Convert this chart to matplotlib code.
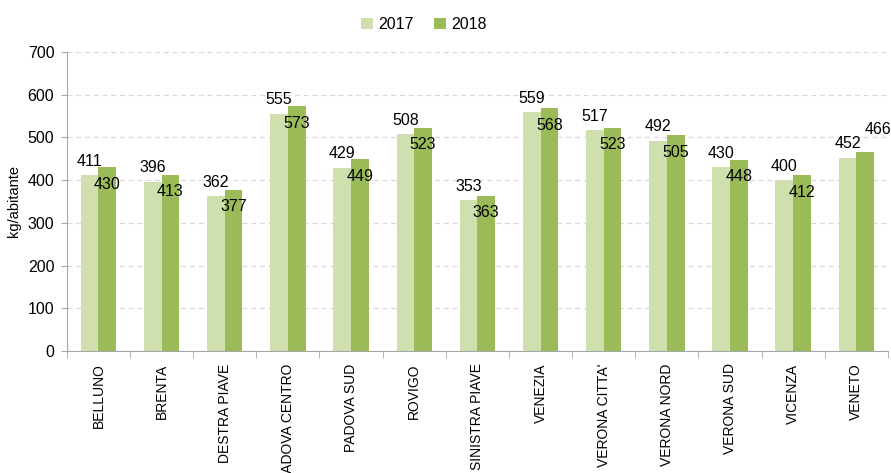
import matplotlib.pyplot as plt
import numpy as np

# data
categories = ['BELLUNO', 'BRENTA', 'DESTRA PIAVE', 'PADOVA CENTRO', 'PADOVA SUD',
              'ROVIGO', 'SINISTRA PIAVE', 'VENEZIA', "VERONA CITTA'", 'VERONA NORD',
              'VERONA SUD', 'VICENZA', 'VENETO']
values_2017 = [411, 396, 362, 555, 429, 508, 353, 559, 517, 492, 430, 400, 452]
values_2018 = [430, 413, 377, 573, 449, 523, 363, 568, 523, 505, 448, 412, 466]
series_names = ['2017', '2018']

color_2017 = '#D0DFAE'
color_2018 = '#9BBB59'
axis_gray = '#A6A6A6'

plt.rcParams['font.family'] = ['Liberation Sans', 'DejaVu Sans']

fig = plt.figure(figsize=(8.91, 4.73), dpi=100)
ax = fig.add_axes([0.075, 0.258, 0.9215, 0.632])

x = np.arange(len(categories))
w = 0.28
bars17 = ax.bar(x - w / 2, values_2017, w, color=color_2017, label=series_names[0], zorder=3)
bars18 = ax.bar(x + w / 2, values_2018, w, color=color_2018, label=series_names[1], zorder=3)

# value labels: 2017 above the bar, 2018 just under the top
for b, v in zip(bars17, values_2017):
    ax.annotate(str(v), (b.get_x() + b.get_width() / 2, v), xytext=(0, 14),
                textcoords='offset pixels', ha='center', va='center', fontsize=11.5,
                zorder=5)
for i, (b, v) in enumerate(zip(bars18, values_2018)):
    off = (0, -17)
    if categories[i] == 'VENETO':
        off = (13, 22)
    ax.annotate(str(v), (b.get_x() + b.get_width() / 2, v), xytext=off,
                textcoords='offset pixels', ha='center', va='center', fontsize=11.5,
                zorder=5)

ax.set_xlim(-0.5, len(categories) - 0.5)
ax.set_ylim(0, 700)
ax.set_yticks(range(0, 701, 100))
ax.tick_params(axis='y', labelsize=11.5, length=4, color=axis_gray, pad=5)

# category labels centred, tick marks between categories
ax.set_xticks(x)
ax.set_xticklabels(categories, rotation=90, fontsize=10)
ax.set_xticks(np.arange(-0.5, len(categories)), minor=True)
ax.tick_params(axis='x', which='major', length=0, pad=9)
ax.tick_params(axis='x', which='minor', length=5, color=axis_gray)

ax.set_ylabel('kg/abitante', fontsize=10.5, labelpad=5)

ax.yaxis.grid(True, linestyle=(0, (4, 3)), color='#D9D9D9', linewidth=0.9, zorder=0)
for s in ['top', 'right']:
    ax.spines[s].set_visible(False)
for s in ['left', 'bottom']:
    ax.spines[s].set_color(axis_gray)

ax.legend(loc='upper center', bbox_to_anchor=(0.435, 1.165), ncol=2, frameon=False,
          fontsize=11.5, handlelength=0.75, handleheight=0.75, handletextpad=0.3,
          columnspacing=1.3)

fig.savefig('out.png', dpi=100)
